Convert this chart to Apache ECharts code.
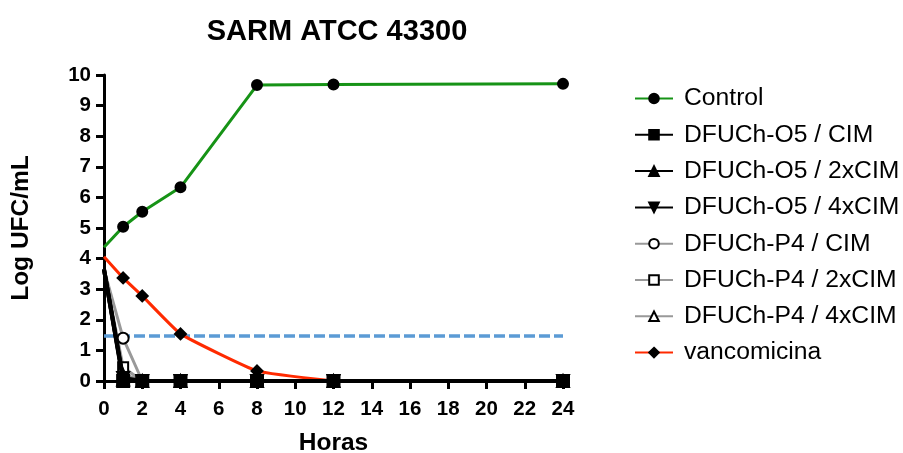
<!DOCTYPE html>
<html>
<head>
<meta charset="utf-8">
<script src="https://cdn.jsdelivr.net/npm/echarts@6/dist/echarts.min.js"></script>
<style>html,body{margin:0;padding:0;background:#fff}#c{width:903px;height:453px}</style>
</head>
<body>
<div id="c"></div>
<script>
const hours = [0, 1, 2, 4, 8, 12, 24];
const control = [4.37, 5.04, 5.53, 6.33, 9.67, 9.69, 9.71];
const o5Cim = [3.65, 0.0, 0, 0, 0, 0, 0];
const o5Cim2 = [3.65, 0.05, 0, 0, 0, 0, 0];
const o5Cim4 = [3.65, 0.1, 0, 0, 0, 0, 0];
const p4Cim = [3.65, 1.4, 0, 0, 0, 0, 0];
const p4Cim2 = [3.65, 0.45, 0, 0, 0, 0, 0];
const p4Cim4 = [3.65, 0.22, 0, 0, 0, 0, 0];
const vanco = [4.06, 3.37, 2.78, 1.54, 0.33, 0.0];
const limitX = [0, 24];
const limitY = [1.47, 1.47];
const seriesNames = ['Control','DFUCh-O5 / CIM','DFUCh-O5 / 2xCIM','DFUCh-O5 / 4xCIM','DFUCh-P4 / CIM','DFUCh-P4 / 2xCIM','DFUCh-P4 / 4xCIM','vancomicina'];

// hide the marker at x = 0 (it sits behind the axis in the reference)
const pair = (xs, ys) => ys.map((v, i) => xs[i] === 0 ? { value: [xs[i], v], symbol: 'none' } : [xs[i], v]);
const FONT = 'Liberation Sans, Arial, sans-serif';

function mk(name, data, lineColor, symbol, size, width, extra) {
  return Object.assign({
    name, type: 'line', data,
    symbol, symbolSize: size,
    lineStyle: { color: lineColor, width: width },
    itemStyle: { color: '#000', borderColor: '#000', borderWidth: 2 },
    emphasis: { disabled: true },
    clip: false
  }, extra || {});
}
const hollow = { color: '#000', borderColor: '#000', borderWidth: 2.5 };
const tick = { show: true, inside: false, length: 8, lineStyle: { color: '#000', width: 3 } };

const chart = echarts.init(document.getElementById('c'), null, { renderer: 'canvas' });
chart.setOption({
  animation: false,
  backgroundColor: '#fff',
  title: {
    text: 'SARM ATCC 43300', left: 332, top: 12, textAlign: 'center',
    textStyle: { fontFamily: FONT, fontWeight: 'bold', fontSize: 29, color: '#000' }
  },
  grid: { left: 104, right: 340, top: 75, bottom: 72, containLabel: false, outerBoundsMode: 'none' },
  legend: {
    orient: 'vertical', left: 629, top: 81,
    itemWidth: 38, itemHeight: 12, itemGap: 11.3,
    textStyle: { fontFamily: FONT, fontSize: 24.7, color: '#000', lineHeight: 25, padding: [0,0,0,6] },
    data: seriesNames
  },
  xAxis: {
    type: 'value', min: 0, max: 24, interval: 2,
    name: 'Horas', nameLocation: 'middle', nameGap: 50,
    nameTextStyle: { fontFamily: FONT, fontWeight: 'bold', fontSize: 24.5, color: '#000' },
    axisLine: { show: true, onZero: false, lineStyle: { color: '#000', width: 3 } },
    axisTick: tick,
    axisLabel: { show: true, fontFamily: FONT, fontWeight: 'bold', fontSize: 20.5, color: '#000', margin: 18 },
    splitLine: { show: false }
  },
  yAxis: {
    type: 'value', min: 0, max: 10, interval: 1,
    name: 'Log UFC/mL', nameLocation: 'middle', nameGap: 70, nameRotate: 90,
    nameTextStyle: { fontFamily: FONT, fontWeight: 'bold', fontSize: 24.5, color: '#000' },
    axisLine: { show: true, onZero: false, lineStyle: { color: '#000', width: 3 } },
    axisTick: tick,
    axisLabel: { show: true, fontFamily: FONT, fontWeight: 'bold', fontSize: 20.5, color: '#000', margin: 13 },
    splitLine: { show: false }
  },
  series: [
    { name: 'limit', type: 'line', data: limitX.map((x, i) => [x, limitY[i]]), symbol: 'none',
      lineStyle: { color: '#5b9bd5', width: 3.5, type: [11, 4] }, emphasis: { disabled: true }, z: 1 },
    mk('Control', pair(hours, control), '#169316', 'circle', 10, 3),
    mk('DFUCh-P4 / CIM', pair(hours, p4Cim), '#999', 'emptyCircle', 11, 3, { itemStyle: hollow }),
    mk('DFUCh-P4 / 2xCIM', pair(hours, p4Cim2), '#999', 'emptyRect', 10, 3, { itemStyle: hollow }),
    mk('DFUCh-P4 / 4xCIM', pair(hours, p4Cim4), '#999', 'emptyTriangle', 10, 3, { itemStyle: hollow }),
    mk('DFUCh-O5 / CIM', pair(hours, o5Cim), '#000', 'rect', 12, 4, { z: 4 }),
    mk('DFUCh-O5 / 2xCIM', pair(hours, o5Cim2), '#000', 'triangle', 12, 4, { z: 4 }),
    mk('DFUCh-O5 / 4xCIM', pair(hours, o5Cim4), '#000', 'triangle', 12, 4, { symbolRotate: 180, z: 4 }),
    mk('vancomicina', pair(hours.slice(0, vanco.length), vanco), '#ff2a00', 'diamond', 11, 3, { smooth: 0.12, z: 3 })
  ]
});
</script>
</body>
</html>
